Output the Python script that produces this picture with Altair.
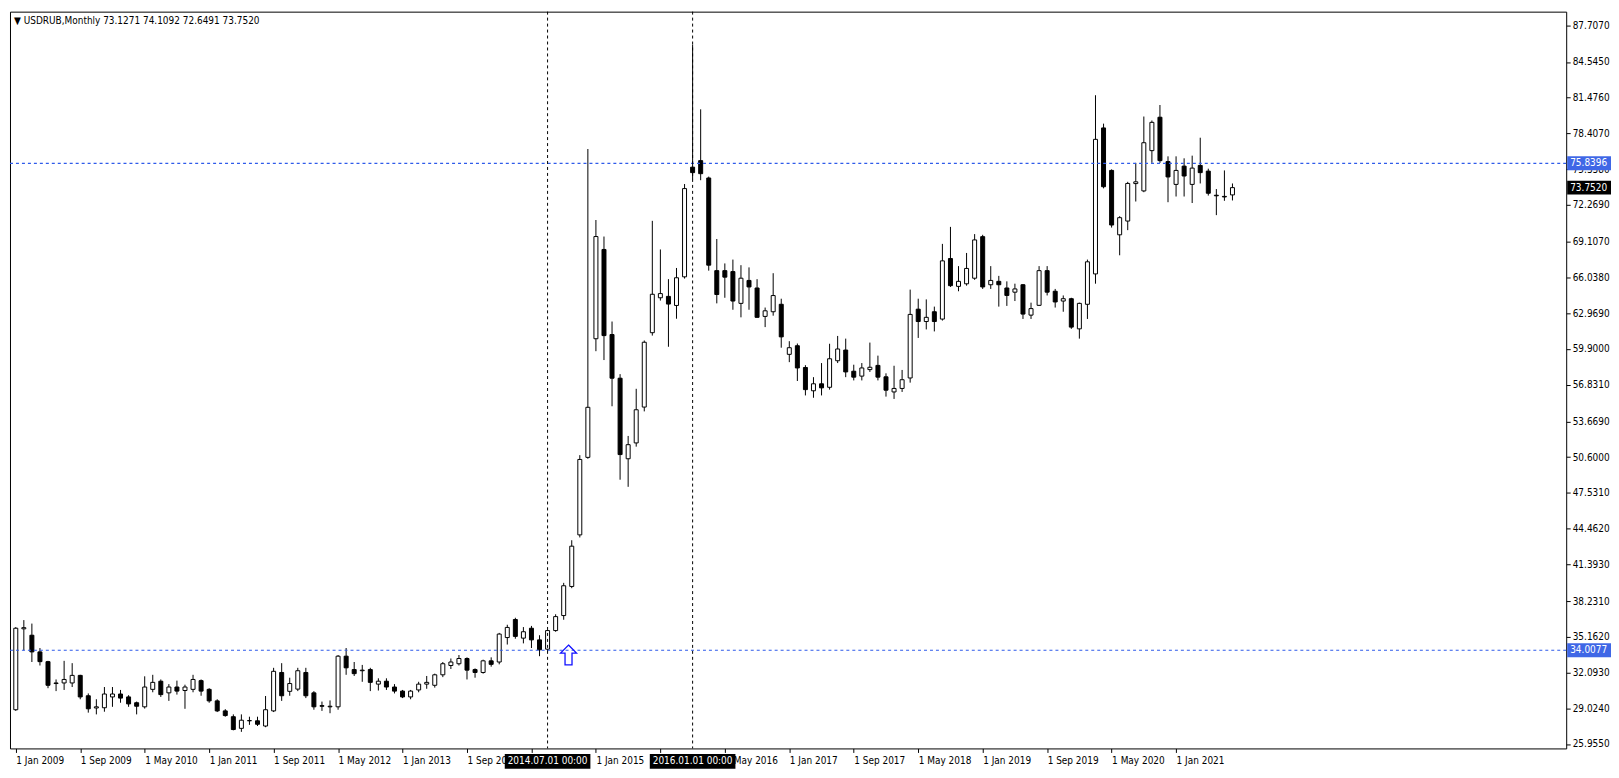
import altair as alt
import pandas as pd

# ---------------- data ----------------
months = list(range(152))  # 0 = Jan 2009 ... 151 = Aug 2021
opens = [28.9, 35.85, 35.3, 33.87, 33.03, 31.15, 31.2, 31.2, 31.85, 30.1, 29.05, 29.07,
         30.0, 30.25, 30.0, 29.5, 29.15, 30.65, 31.35, 30.35, 30.85, 30.55, 30.65, 31.4,
         30.65, 29.66, 28.8, 28.3, 27.3, 27.95, 27.95, 27.5, 28.8, 32.1, 30.48, 30.67,
         32.1, 30.35, 29.25, 29.15, 29.15, 33.5, 32.35, 32.25, 32.35, 31.1, 31.35, 30.85,
         30.5, 30.0, 30.6, 31.1, 31.0, 31.9, 32.7, 32.85, 33.3, 32.35, 32.1, 33.1,
         33.0, 35.1, 36.65, 35.05, 35.9, 34.9, 34.1, 35.7, 36.99, 39.49, 43.92, 50.58,
         60.77, 68.44, 61.13, 57.38, 50.46, 51.82, 54.9, 61.29, 64.29, 64.41, 63.63, 66.09,
         75.51, 76.07, 74.58, 66.62, 66.62, 66.54, 63.81, 65.78, 65.13, 62.69, 63.09, 63.73,
         59.43, 60.17, 58.3, 56.3, 56.9, 56.6, 58.88, 59.8, 57.98, 57.56, 58.12, 58.48,
         57.5, 56.2, 56.5, 57.4, 63.31, 62.25, 63.09, 62.46, 67.66, 65.27, 65.49, 65.97,
         69.54, 65.41, 65.7, 65.13, 64.77, 65.41, 62.8, 63.64, 66.62, 64.85, 64.01, 64.21,
         61.62, 63.73, 66.34, 78.88, 75.23, 69.7, 70.88, 74.1, 73.47, 76.93, 79.8, 75.99,
         74.03, 75.6, 74.03, 75.66, 75.17, 73.1, 73.0, 73.1271]
highs = [36.0, 36.6, 36.3, 34.2, 33.1, 31.5, 33.1, 32.9, 31.9, 30.3, 29.8, 30.85,
         30.85, 30.6, 30.15, 29.6, 31.77, 31.9, 31.5, 31.1, 31.4, 31.05, 31.9, 31.5,
         30.75, 29.8, 28.95, 28.5, 28.5, 28.3, 28.3, 30.08, 32.5, 32.9, 31.65, 32.5,
         32.5, 30.5, 29.6, 29.7, 33.6, 34.2, 33.0, 32.75, 32.5, 31.6, 31.6, 31.1,
         30.6, 30.6, 31.3, 31.8, 32.0, 33.0, 33.3, 33.6, 33.4, 32.45, 33.2, 33.4,
         35.5, 36.2, 36.8, 36.0, 36.1, 35.3, 35.75, 37.1, 39.8, 43.46, 50.77, 77.07,
         70.97, 69.55, 62.25, 57.73, 52.42, 56.47, 60.62, 70.9, 68.44, 65.89, 66.85, 74.06,
         86.03, 80.48, 74.7, 69.34, 67.24, 67.57, 67.09, 66.9, 65.89, 63.45, 66.4, 64.21,
         60.56, 60.36, 58.5, 57.47, 58.68, 60.34, 61.01, 60.78, 58.54, 58.68, 60.44, 59.32,
         57.8, 58.45, 58.09, 64.99, 64.21, 64.15, 63.53, 68.92, 70.38, 67.01, 68.14, 69.76,
         69.7, 67.01, 66.17, 65.7, 65.5, 65.47, 63.87, 67.01, 67.01, 65.05, 64.49, 64.29,
         63.87, 67.57, 81.69, 79.25, 75.32, 71.3, 74.25, 75.88, 79.86, 79.52, 80.85, 76.44,
         76.44, 76.27, 76.5, 78.04, 75.38, 73.63, 75.23, 74.1092]
lows = [28.8, 34.0, 33.0, 32.7, 30.75, 30.5, 30.6, 30.85, 29.8, 28.65, 28.5, 28.73,
        29.15, 29.5, 29.15, 28.5, 29.0, 30.4, 30.0, 29.66, 30.2, 28.98, 30.4, 30.1,
        29.5, 28.7, 28.3, 27.13, 27.0, 27.6, 27.5, 27.4, 28.7, 29.66, 30.1, 30.5,
        29.9, 28.9, 28.8, 28.6, 28.9, 31.9, 31.8, 31.3, 30.5, 30.55, 30.6, 30.3,
        29.9, 29.8, 30.4, 30.7, 30.8, 31.7, 32.4, 32.7, 31.5, 31.65, 32.0, 32.6,
        32.8, 34.5, 35.0, 34.6, 34.2, 33.5, 33.9, 35.6, 36.63, 39.34, 43.7, 50.46,
        59.7, 58.94, 54.97, 48.66, 48.05, 51.5, 54.53, 61.04, 64.05, 60.08, 62.49, 65.94,
        74.47, 74.39, 66.62, 63.81, 64.29, 63.26, 62.61, 63.26, 62.6, 61.77, 62.75, 60.0,
        58.76, 57.14, 55.9, 55.7, 55.9, 56.4, 58.68, 57.47, 57.19, 57.19, 57.92, 57.19,
        55.8, 55.6, 56.2, 57.0, 60.84, 61.57, 61.4, 62.33, 65.22, 64.85, 65.33, 65.83,
        65.05, 65.05, 63.53, 63.59, 64.01, 62.47, 62.47, 63.59, 64.49, 63.45, 63.09, 61.62,
        60.78, 62.47, 65.5, 73.69, 70.32, 67.94, 70.1, 72.56, 73.36, 75.88, 75.88, 72.5,
        72.99, 72.99, 72.43, 74.11, 73.07, 71.39, 72.62, 72.6491]
closes = [35.9, 35.95, 33.87, 33.03, 31.0, 31.2, 31.5, 31.85, 30.0, 28.98, 29.15, 30.25,
          30.25, 29.9, 29.4, 29.2, 30.85, 31.25, 30.2, 30.85, 30.5, 30.85, 31.5, 30.5,
          29.66, 28.8, 28.4, 27.2, 28.0, 27.97, 27.65, 28.9, 32.2, 30.1, 31.15, 32.25,
          30.1, 29.15, 29.2, 29.2, 33.5, 32.5, 32.0, 32.3, 31.25, 31.35, 30.85, 30.5,
          30.0, 30.5, 31.1, 31.25, 31.9, 32.85, 33.0, 33.3, 32.3, 32.1, 33.1, 32.8,
          35.4, 35.97, 35.2, 35.6, 34.9, 34.05, 35.7, 36.9, 39.55, 42.95, 50.4, 54.88,
          69.55, 61.04, 57.38, 50.82, 51.67, 54.67, 60.47, 64.59, 64.65, 63.75, 66.01, 73.67,
          75.04, 74.95, 67.09, 64.57, 66.06, 64.01, 65.97, 65.22, 62.61, 63.17, 64.48, 60.93,
          60.0, 58.26, 56.4, 56.9, 56.55, 59.05, 59.89, 57.92, 57.47, 58.26, 58.32, 57.47,
          56.35, 56.5, 57.25, 62.86, 62.25, 62.61, 62.25, 67.46, 65.33, 65.7, 66.81, 69.26,
          65.22, 65.78, 65.41, 64.49, 65.05, 62.89, 63.36, 66.62, 64.77, 63.93, 64.21, 61.77,
          63.81, 67.38, 77.9, 73.83, 70.54, 71.17, 74.11, 74.25, 77.61, 79.36, 76.07, 74.67,
          75.23, 74.75, 75.43, 75.04, 73.27, 73.05, 72.95, 73.752]

x_tick_months = list(range(0, 145, 8))
x_tick_labels = ["1 Jan 2009", "1 Sep 2009", "1 May 2010", "1 Jan 2011", "1 Sep 2011",
                 "1 May 2012", "1 Jan 2013", "1 Sep 2013", "1 May 2014", "1 Jan 2015",
                 "1 Sep 2015", "1 May 2016", "1 Jan 2017", "1 Sep 2017", "1 May 2018",
                 "1 Jan 2019", "1 Sep 2019", "1 May 2020", "1 Jan 2021"]
y_tick_values = [87.707, 84.545, 81.476, 78.407, 75.338, 72.269, 69.107, 66.038, 62.969,
                 59.9, 56.831, 53.669, 50.6, 47.531, 44.462, 41.393, 38.231, 35.162,
                 32.093, 29.024, 25.955]

hline_prices = [75.8396, 34.0077]
vline_months = [66, 84]
vline_labels = ["2014.07.01 00:00", "2016.01.01 00:00"]
box_prices = [75.8396, 34.0077, 73.752]
box_texts = ["75.8396", "34.0077", "73.7520"]
box_colors = ["#3F67E6", "#3F67E6", "#000000"]
arrow_month = [68.6]
arrow_price = [33.6]
title_text = ["\u25BC USDRUB,Monthly  73.1271 74.1092 72.6491 73.7520"]

# ---------------- layout ----------------
W, H = 1563, 740
X_DOMAIN = [-0.1, 191.8]
Y_DOMAIN = [25.575, 88.87]
FONT = "DejaVu Sans Condensed, DejaVu Sans"

df = pd.DataFrame({"m": months, "open": opens, "high": highs, "low": lows, "close": closes})

label_expr = "[" + ",".join("'%s'" % s for s in x_tick_labels) + "][round(datum.value/8)]"
x_axis = alt.Axis(values=x_tick_months, labelExpr=label_expr, title=None, grid=False,
                  domain=False, tickSize=4, tickColor="black", labelAlign="left",
                  labelFont=FONT, labelFontSize=10, labelColor="black", labelPadding=3,
                  labelFlush=False, labelOverlap=False, orient="bottom")
y_axis = alt.Axis(values=y_tick_values, format=".4f", title=None, grid=False, domain=False,
                  tickSize=4, tickColor="black", labelFont=FONT, labelFontSize=10,
                  labelColor="black", labelPadding=2, labelFlush=False,
                  labelOverlap=False, orient="right")
x_scale = alt.Scale(domain=X_DOMAIN, nice=False, zero=False)
y_scale = alt.Scale(domain=Y_DOMAIN, nice=False, zero=False)


def X(field):
    return alt.X(field, type="quantitative", scale=x_scale, axis=x_axis)


def Y(field):
    return alt.Y(field, type="quantitative", scale=y_scale, axis=y_axis)


base = alt.Chart(df)

wicks = base.mark_rule(color="black", strokeWidth=1).encode(
    x=X("m"), y=Y("low"), y2="high")

bodies = base.mark_bar(size=4, stroke="black", strokeWidth=1, opacity=1).encode(
    x=X("m"), y=Y("open"), y2="close",
    fill=alt.condition("datum.close > datum.open", alt.value("white"), alt.value("black")))

hdf = pd.DataFrame({"p": hline_prices})
hlines = alt.Chart(hdf).mark_rule(color="#2F5BEA", strokeDash=[3, 3], strokeWidth=1.2).encode(
    y=Y("p"))

vdf = pd.DataFrame({"m": vline_months, "t": vline_labels})
vlines = alt.Chart(vdf).mark_rule(color="black", strokeDash=[3, 3], strokeWidth=1).encode(
    x=X("m"))

adf = pd.DataFrame({"m": arrow_month, "p": arrow_price})
arrow = alt.Chart(adf).mark_point(
    shape="M0,-1L0.8,-0.2L0.35,-0.2L0.35,1L-0.35,1L-0.35,-0.2L-0.8,-0.2Z",
    size=400, filled=False, stroke="#1010FF", strokeWidth=1.3, opacity=1).encode(
    x=X("m"), y=Y("p"))

date_box = alt.Chart(vdf).mark_point(
    shape="M-1,-0.174L1,-0.174L1,0.174L-1,0.174Z", size=86 * 86, filled=True,
    color="black", opacity=1, strokeWidth=0).encode(
    x=X("m"), y=alt.value(H + 13))
date_text = alt.Chart(vdf).mark_text(font=FONT, fontSize=10, color="white",
                                     align="center", baseline="middle").encode(
    x=X("m"), y=alt.value(H + 13), text="t:N")

bdf = pd.DataFrame({"p": box_prices, "t": box_texts, "c": box_colors})
price_box = alt.Chart(bdf).mark_point(
    shape="M-1,-0.318L1,-0.318L1,0.318L-1,0.318Z", size=44 * 44, filled=True,
    opacity=1, strokeWidth=0).encode(
    x=alt.value(W + 23), y=Y("p"), color=alt.Color("c:N", scale=None))
price_text = alt.Chart(bdf).mark_text(font=FONT, fontSize=10, color="white",
                                      align="left", baseline="middle").encode(
    x=alt.value(W + 4), y=Y("p"), text="t:N")

tdf = pd.DataFrame({"t": title_text})
title = alt.Chart(tdf).mark_text(font=FONT, fontSize=10, color="black", align="left",
                                 baseline="middle").encode(
    x=alt.value(4), y=alt.value(9), text="t:N")

chart = alt.layer(wicks, bodies, hlines, vlines, arrow, date_box, date_text,
                  price_box, price_text, title).properties(
    width=W, height=H, padding={"left": 1, "top": 1, "right": 0, "bottom": 0},
    background="white"
).configure_view(stroke="black", strokeWidth=1)

chart.save("out.html", embed_options={"renderer": "svg", "actions": False})
